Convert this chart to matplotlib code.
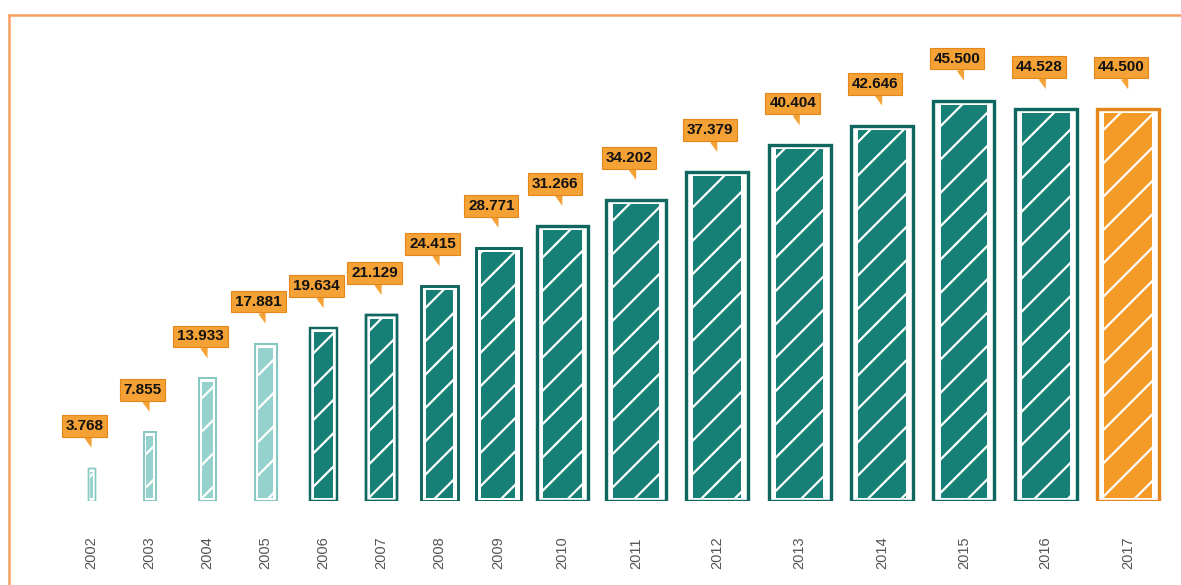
import numpy as np
import matplotlib
matplotlib.use('Agg')
from matplotlib import pyplot as plt
from matplotlib.lines import Line2D

years = ['2002', '2003', '2004', '2005', '2006', '2007', '2008', '2009',
         '2010', '2011', '2012', '2013', '2014', '2015', '2016', '2017']
values = [3.768, 7.855, 13.933, 17.881, 19.634, 21.129, 24.415, 28.771,
          31.266, 34.202, 37.379, 40.404, 42.646, 45.500, 44.528, 44.500]

# styling / layout (bars get wider over time, in px)
bar_w = [7, 12, 17, 22, 27, 31, 37, 45, 51, 60, 62, 62, 62, 61, 62, 62]
light = '#96d2cd'
light_edge = '#86c8c2'
teal = '#178076'
teal_edge = '#0f675f'
orange = '#f39a27'
orange_edge = '#e4861a'
box_orange = '#f4a235'
colors = [light] * 4 + [teal] * 11 + [orange]
edges = [light_edge] * 4 + [teal_edge] * 11 + [orange_edge]

px = 8.8  # pixels per unit (thousands)
slots = [max(1.33 * w, 58) for w in bar_w]
xs = [91.5]
for i in range(1, len(slots)):
    xs.append(xs[-1] + (slots[i - 1] + slots[i]) / 2)

plt.rcParams['hatch.linewidth'] = 1.6
plt.rcParams['font.family'] = ['Liberation Sans', 'DejaVu Sans']

fig = plt.figure(figsize=(11.81, 5.85), dpi=100)
ax = fig.add_axes([0, 84 / 585, 1, 501 / 585])
ax.set_xlim(0, 1181)
ax.set_ylim(0, 501 / px)
ax.axis('off')

for x, v, w, c, e in zip(xs, values, bar_w, colors, edges):
    lw = min(2.3, 0.8 + w * 0.03)
    # outer hand-drawn frame
    ax.bar(x, v, width=w, color='white', edgecolor=e, linewidth=lw, zorder=2)
    # scribbled fill
    inset = 0.1 * w + 1
    ax.bar(x, v - 7 / px, width=w - 2 * inset, bottom=3 / px, color=c,
           edgecolor='white', linewidth=0, hatch='/', zorder=3)
    ax.bar(x, v, width=w, color='none', edgecolor=e, linewidth=lw, zorder=4)

for x, v in zip(xs, values):
    ax.annotate(f'{v:.3f}', xy=(x, v + 20 / px), xytext=(-7, 22),
                textcoords='offset pixels', ha='center', va='center',
                fontsize=11, fontweight='bold', color='#111111',
                bbox=dict(boxstyle='square,pad=0.25', fc=box_orange,
                          ec=orange_edge, lw=0.8),
                arrowprops=dict(arrowstyle='wedge,tail_width=0.5',
                                fc=box_orange, ec='none',
                                shrinkA=0, shrinkB=0),
                zorder=5)

for x, y in zip(xs, years):
    ax.annotate(y, xy=(x, 0), xytext=(0, -52), textcoords='offset pixels',
                rotation=90, ha='center', va='center', fontsize=10.5,
                color='#555555')

# orange frame at top and left
fig.add_artist(Line2D([9 / 1181, 1], [1 - 15 / 585, 1 - 15 / 585],
                      color='#f7a060', lw=1.8, transform=fig.transFigure))
fig.add_artist(Line2D([9 / 1181, 9 / 1181], [0, 1 - 15 / 585],
                      color='#f7a060', lw=1.8, transform=fig.transFigure))

fig.savefig('out.png', dpi=100)
